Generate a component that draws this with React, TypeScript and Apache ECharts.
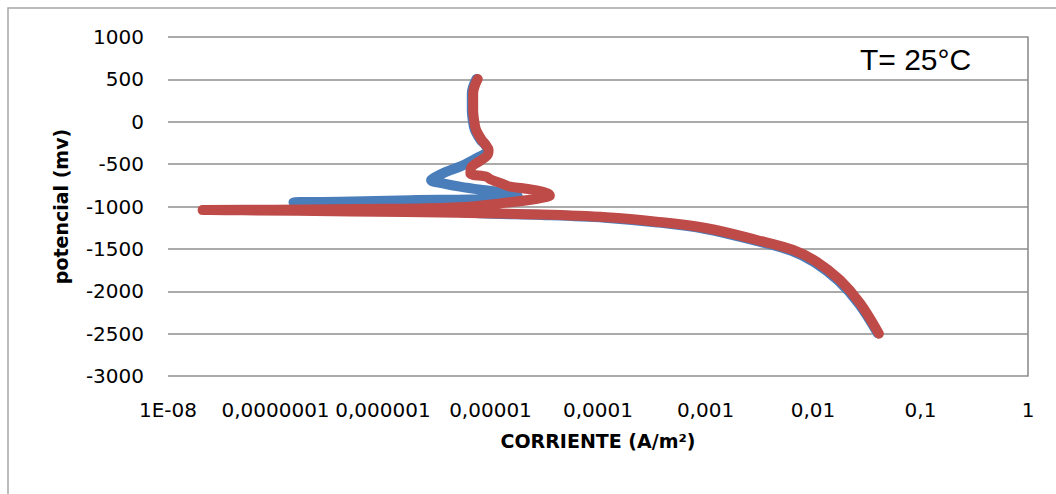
import React, { useEffect, useRef } from "react";
import * as echarts from "echarts";

// Tick labels of the log current axis (one per decade, 1E-08 .. 1)
const xTickLabels = ["1E-08", "0,0000001", "0,000001", "0,00001", "0,0001", "0,001", "0,01", "0,1", "1"];

// Blue series: current (A/m²) and potential (mV), in scan order
const blueCurrent = [
  0.040, 0.0268, 0.0172, 0.0104, 0.0063, 0.0029, 0.001, 0.00034, 0.000115, 0.00003, 0.000008, 0.0000025,
  0.0000008, 0.0000003, 0.000000147,
  0.0000004, 0.0000018, 0.0000065, 0.000012, 0.000018, 0.0000152, 0.0000085, 0.0000052, 0.0000036, 0.0000028,
  0.0000030, 0.0000039, 0.0000052, 0.0000074, 0.0000093, 0.0000094, 0.0000089, 0.0000081, 0.0000073, 0.0000070,
  0.0000067, 0.0000067, 0.0000074,
];
const bluePotential = [
  -2495, -2150, -1875, -1660, -1522, -1403, -1265, -1185, -1132, -1100, -1080, -1040,
  -995, -968, -950,
  -945, -925, -918, -905, -875, -845, -805, -766, -726, -690,
  -660, -589, -530, -431, -360, -333, -270, -215, -120, -58,
  139, 336, 505,
];

// Red series: current (A/m²) and potential (mV), in scan order
const redCurrent = [
  0.041, 0.0274, 0.0178, 0.0108, 0.00656, 0.0030, 0.00103, 0.00035, 0.00012, 0.00003, 0.000005, 0.0000005,
  0.00000005, 0.000000021,
  0.0000001, 0.000001, 0.000005, 0.0000152, 0.000028, 0.0000357, 0.000034, 0.0000269, 0.00002, 0.0000152,
  0.000013, 0.0000114, 0.0000100, 0.0000092, 0.0000065, 0.0000067, 0.0000078, 0.0000093, 0.0000096, 0.000009,
  0.0000083, 0.0000075, 0.0000072, 0.0000069, 0.0000069, 0.0000076,
];
const redPotential = [
  -2500, -2142, -1867, -1651, -1513, -1395, -1257, -1179, -1127, -1095, -1075, -1058,
  -1045, -1040,
  -1037, -1028, -1010, -950, -905, -870, -845, -810, -785, -766,
  -735, -707, -680, -648, -608, -530, -470, -400, -333, -270,
  -215, -120, -58, 139, 336, 505,
];

const pairs = (xs: number[], ys: number[]) => xs.map((x, i) => [x, ys[i]]);

export default function App() {
  const ref = useRef<HTMLDivElement>(null);

  useEffect(() => {
    if (!ref.current) return;
    const chart = echarts.init(ref.current, null, { renderer: "svg" });
    const gridColor = "#8e8e8e";
    const labelFont = "DejaVu Sans";
    chart.setOption({
      animation: false,
      backgroundColor: "#ffffff",
      title: {
        text: "T= 25°C",
        left: 860,
        top: 44,
        padding: 0,
        textStyle: { fontFamily: "Liberation Sans", fontSize: 30, fontWeight: "normal", color: "#000" },
      },
      graphic: [
        {
          type: "rect",
          x: 8,
          y: 8,
          shape: { x: 0, y: 0, width: 1200, height: 700 },
          style: { fill: "none", stroke: "#a6a6a6", lineWidth: 1.5 },
          silent: true,
          z: -10,
        },
      ],
      grid: { left: 168, right: 28, top: 37, bottom: 118, containLabel: false },
      xAxis: {
        type: "log",
        logBase: 10,
        min: 1e-8,
        max: 1,
        splitNumber: 8,
        name: "CORRIENTE (A/m²)",
        nameLocation: "middle",
        nameGap: 55,
        nameTextStyle: { fontFamily: labelFont, fontWeight: "bold", fontSize: 19, color: "#000" },
        axisLine: { show: false },
        axisTick: { show: false },
        splitLine: { show: false },
        axisLabel: {
          margin: 24,
          fontFamily: labelFont,
          fontSize: 20,
          color: "#000",
          showMinLabel: true,
          showMaxLabel: true,
          formatter: (v: number) => {
            const e = Math.round(Math.log10(v));
            return xTickLabels[e + 8] ?? "";
          },
        },
      },
      yAxis: [
        {
          type: "value",
          min: -3000,
          max: 1000,
          interval: 500,
          name: "potencial (mv)",
          nameLocation: "middle",
          nameGap: 98,
          nameRotate: 90,
          nameTextStyle: { fontFamily: labelFont, fontWeight: "bold", fontSize: 19, color: "#000" },
          axisLine: { show: false },
          axisTick: { show: false },
          splitLine: { show: true, lineStyle: { color: gridColor, width: 1.6 } },
          axisLabel: {
            margin: 24,
            fontFamily: labelFont,
            fontSize: 20,
            color: "#000",
            formatter: (v: number) => String(v),
          },
        },
        {
          type: "value",
          position: "right",
          min: -3000,
          max: 1000,
          interval: 500,
          axisLine: { show: true, lineStyle: { color: gridColor, width: 1.6 } },
          axisTick: { show: false },
          axisLabel: { show: false },
          splitLine: { show: false },
        },
      ],
      series: [
        {
          type: "line",
          name: "blue",
          yAxisIndex: 0,
          data: pairs(blueCurrent, bluePotential),
          showSymbol: false,
          smooth: 0.35,
          lineStyle: { color: "#4a7ebb", width: 10, cap: "round", join: "round" },
          z: 2,
        },
        {
          type: "line",
          name: "red",
          yAxisIndex: 0,
          data: pairs(redCurrent, redPotential),
          showSymbol: false,
          smooth: 0.35,
          lineStyle: { color: "#be4b48", width: 10, cap: "round", join: "round" },
          z: 3,
        },
      ],
    });
    return () => chart.dispose();
  }, []);

  return (
    <div
      ref={ref}
      style={{ position: "fixed", left: 0, top: 0, width: 1056, height: 494, background: "#fff" }}
    />
  );
}
